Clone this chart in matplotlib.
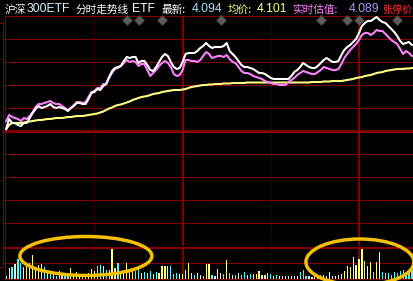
import matplotlib
matplotlib.use("Agg")
import matplotlib.pyplot as plt
from matplotlib.patches import Ellipse
from matplotlib.lines import Line2D

# ---------------- data (minute index from the open) ----------------
minutes = list(range(139))

# price offsets from previous close (chart units, 23 units per grid row)
price_white = [2,12,8,8,6,5,8,8,13,18,
               22,25,23,24,25,27,24,23,24,23,
               22,20,23,25,28,28,27,27,32,38,
               39,42,41,45,47,54,60,63,64,65,
               70,74,73,74,74,68,70,70,66,61,
               60,64,69,74,77,75,69,64,62,63,
               69,77,78,78,78,80,83,85,88,85,
               83,84,84,84,85,88,80,77,74,70,
               66,64,64,63,62,60,58,58,57,55,
               53,52,52,52,52,52,52,55,59,61,
               64,68,66,64,63,63,65,68,71,73,
               71,69,69,70,76,81,84,86,89,92,
               98,105,108,110,110,112,114,111,109,108,
               105,102,99,95,90,87,88,89,86]

estimate_pink = [10,16,14,13,12,10,13,12,15,19,
                 24,27,27,28,29,30,28,27,27,25,
                 23,21,23,26,29,29,28,29,34,39,
                 40,43,43,47,47,53,58,62,63,65,
                 68,71,69,70,69,65,67,67,61,55,
                 58,61,65,68,70,68,64,57,55,56,
                 61,71,71,70,70,69,71,75,79,77,
                 73,74,75,75,74,76,72,69,68,64,
                 60,58,58,57,55,54,53,52,50,49,
                 48,47,47,46,46,46,49,51,53,56,
                 58,60,59,58,57,57,59,61,64,63,
                 62,61,61,62,67,73,77,81,84,87,
                 91,96,98,98,96,98,101,100,100,97,
                 94,91,89,87,82,77,80,78,75]

average_yellow = [2,6,8,8,8,8,8.5,9,9.5,10,
                  10.5,11,11,11.5,12,12,12.5,13,13,13,
                  13.5,14,14,14.5,15,15,15,15.5,16,16.5,
                  17,17.5,18.5,19.5,21,22.5,23.5,25,26,26.5,
                  27.5,28.5,29.5,31,32,33,34,34.5,35,36,
                  37,37.5,38,39,39.5,40,40.5,41,41,41,
                  41.5,42,43,44,44.5,45,45.5,46,46,46.5,
                  46.5,47,47,47,47.5,47.5,47.5,48,48,48,
                  48,48,48.5,48.5,48.5,48.5,48.5,48.5,48.5,48.5,
                  48.5,48.5,48.5,48.5,48.5,48.5,48.5,48.5,48.5,48.5,
                  48.5,48.5,48.5,48.5,49,49,49,49,49.5,49.5,
                  49.5,50,50,50,50,50.5,51,51.5,52,53,
                  53.5,54,55,55.5,56,57,58,58.5,59,60,
                  60.5,61,61.5,62,62,62,62.5,62.5,63]

volume = [3,11,12,15,20,16,12,13,16,24,12,14,15,12,8,5,5,3,8,4,5,5,11,3,7,5,3,3,6,10,
          8,13,14,13,9,9,30,11,16,8,8,16,8,9,8,10,
          6,7,6,8,5,7,6,13,13,13,13,5,6,5,5,9,16,6,4,6,4,3,15,15,4,3,10,6,5,19,
          6,4,4,6,4,7,4,5,5,5,8,4,4,6,5,3,4,
          3,3,3,3,3,3,3,7,9,3,3,2,3,2,4,4,3,7,3,3,4,5,8,13,12,22,14,20,30,18,
          13,17,7,17,27,7,6,6,4,7,6,8,9,5,7,9]

# u = up (yellow), d = down (cyan), f = flat (white)
volume_dir = (list("ffdfddfuuufufdudfdufddufuffduuu" "ddfdfufdufufudd")
              + list("udfdfdu" "uuud" "ddfu" "uu" "fdufd" "uu" "df" "ufd" "u"
                     "dfdfddfdfu" "ufufdfd")
              + list("ffffff" "u" "ddd" "ff" "u" "ff" "u" "f" "u" "fff" "u"
                     "uuuuuu" "u" "f" "uu" "d" "uu" "ddddddddddd"))

event_minutes = [41, 45, 53, 73, 107, 116, 120, 133]

title_runs = [("沪深", 5, "#ffffff", "cjk"),
              ("300ETF", 27, "#d0f4ff", "lat"),
              ("分时走势线", 76, "#ffffff", "cjk"),
              ("ETF", 132, "#ffffff", "lat"),
              ("最新:", 162, "#ffffff", "cjk"),
              ("4.094", 192, "#a8e0ff", "lat"),
              ("均价:", 228, "#ffff80", "cjk"),
              ("4.101", 257, "#ffff80", "lat"),
              ("实时估值:", 292, "#ff80ff", "cjk"),
              ("4.089", 349, "#a898ff", "lat"),
              ("张停价", 382, "#ff3030", "cjk")]

# ---------------- styling ----------------
W, H = 413, 281
GRID = "#840000"
PX = 0.72  # points per pixel at 100 dpi
C_UP, C_DN, C_FL = "#ffff80", "#54f8f8", "#e8e8e8"
cmap = {"u": C_UP, "d": C_DN, "f": C_FL}

fig = plt.figure(figsize=(W / 100, H / 100), dpi=100, facecolor="black")

def fy(py):
    return 1 - py / H

x0, x1 = -0.41, 138.37
ax_p = fig.add_axes([5 / W, fy(246), (W - 5) / W, 230 / H], facecolor="black")
ax_v = fig.add_axes([5 / W, fy(278.8), (W - 5) / W, 31.3 / H], facecolor="black")

for ax in (ax_p, ax_v):
    ax.set_xlim(x0, x1)
    ax.set_xticks([]); ax.set_yticks([])
    for s in ax.spines.values():
        s.set_visible(False)
    ax.spines["left"].set_visible(True)
    ax.spines["left"].set_color(GRID)
    ax.spines["left"].set_linewidth(1.0 * PX)
    for m, solid in ((30, False), (60, True), (90, False), (120, True)):
        if solid:
            ax.axvline(m, color=GRID, lw=2 * PX, zorder=1)
        else:
            ax.axvline(m, color=GRID, lw=1 * PX, ls=(0, (1, 2)), zorder=1)

ax_p.set_ylim(-115, 115)
for k in range(-4, 6):
    lw = 3 * PX if k == 0 else 1 * PX
    ax_p.axhline(k * 23, color=GRID, lw=lw, zorder=1, clip_on=False)

ax_v.set_ylim(0, 31.3)
ax_v.axhline(15.8, color=GRID, lw=1 * PX, zorder=1)
ax_v.axhline(31.3, color=GRID, lw=2 * PX, zorder=1, clip_on=False)
ax_v.axhline(0, color=GRID, lw=1 * PX, zorder=1, clip_on=False)

# lines
ax_p.plot(minutes, average_yellow, color="#ffff80", lw=1.5, zorder=3)
ax_p.plot(minutes, estimate_pink, color="#ff80ff", lw=1.5, zorder=4)
ax_p.plot(minutes, price_white, color="#ffffff", lw=1.5, zorder=5)

# event diamonds
ax_p.plot(event_minutes, [111] * len(event_minutes), ls="none", marker="D", ms=5.4,
          mfc="#5c5c5c", mec="#404040", mew=0.6, zorder=6, clip_on=False)

# volume bars
ax_v.bar(minutes, volume, width=0.4, color=[cmap[c] for c in volume_dir],
         linewidth=0, antialiased=False, zorder=3)

# highlight ellipses
for cx, cy, w, h in ((27.1, 22.8, 44.9, 39), (120.3, 16.8, 36.7, 46)):
    e = Ellipse((cx, cy), w, h, fill=False, edgecolor="#f5c000", lw=2.5,
                zorder=10, clip_on=False)
    ax_v.add_patch(e)

# left frame decoration
fig.add_artist(Line2D([2.5 / W, 2.5 / W], [fy(21), fy(267)], color=GRID, lw=1 * PX))
fig.add_artist(Line2D([0, 2.5 / W], [fy(267), fy(267)], color=GRID, lw=1 * PX))
fig.add_artist(Line2D([0, 2.5 / W], [fy(23), fy(23)], color=GRID, lw=1 * PX))

# title
for txt, px, col, kind in title_runs:
    if kind == "cjk":
        size = 7.3 if txt == "张停价" else 7.7
        fig.text(px / W, fy(13), txt, color=col, fontsize=size,
                 family=["Noto Sans CJK SC", "DejaVu Sans"], va="baseline", ha="left")
    else:
        fig.text(px / W, fy(12.5), txt, color=col, fontsize=8.8,
                 family=["Liberation Sans", "DejaVu Sans"], va="baseline", ha="left")

fig.savefig("out.png", dpi=100, facecolor="black")
